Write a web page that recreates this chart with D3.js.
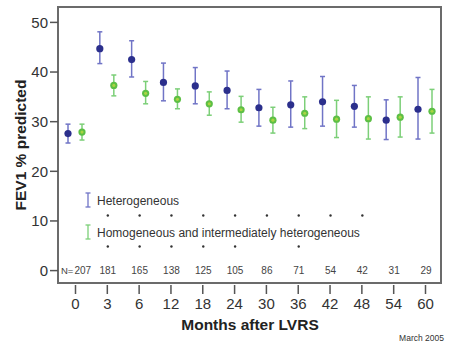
<!DOCTYPE html>
<html><head><meta charset="utf-8">
<script src="https://cdn.jsdelivr.net/npm/d3@7"></script>
<style>body{margin:0;background:#fff}text{font-family:"Liberation Sans",Arial,sans-serif}</style>
</head><body>
<svg id="c" width="465" height="343"></svg>
<script>
const months = ["0","3","6","12","18","24","30","36","42","48","54","60"];
const nLabels = ["207","181","165","138","125","105","86","71","54","42","31","29"];
const hetMean = [27.5,44.6,42.4,37.8,37.1,36.2,32.7,33.3,33.9,33.0,30.2,32.4];
const hetHigh = [29.4,48.0,46.2,41.7,40.8,40.1,36.4,38.1,39.0,37.2,34.3,38.8];
const hetLow  = [25.6,41.6,38.9,34.1,33.5,32.5,29.0,28.8,29.0,28.8,26.3,26.4];
const homMean = [27.8,37.2,35.6,34.4,33.5,32.3,30.2,31.6,30.4,30.5,30.8,32.0];
const homHigh = [29.4,39.3,38.0,36.5,35.9,35.0,32.8,34.9,34.2,34.9,34.9,36.4];
const homLow  = [26.2,35.1,33.5,32.5,31.2,29.8,27.6,28.5,26.7,26.4,26.8,27.6];
const sigHet = ["3","6","12","18","24","30","36","42","48"];
const sigHom = ["3","6","12","18","24","36"];
const yTicks = [0,10,20,30,40,50];

const svg = d3.select("#c");
const L=58, R=441, T=7, B=283;
const x = d3.scalePoint().domain(months).range([75,425]);
const y = d3.scaleLinear().domain([-2.6,53]).range([B,T]);
const blueDot="#2b2f8c", blueBar="#7074c6", greenDot="#5cbf45", greenBar="#7ccf78";

// frame
svg.append("rect").attr("x",L).attr("y",T).attr("width",R-L).attr("height",B-T)
  .attr("fill","none").attr("stroke","#6b6b6b").attr("stroke-width",2);

// y axis
const ya = svg.append("g").attr("transform",`translate(${L},0)`)
  .call(d3.axisLeft(y).tickValues(yTicks).tickSize(8).tickPadding(2));
ya.select(".domain").remove();
ya.selectAll("line").attr("stroke","#555").attr("stroke-width",1.5);
ya.selectAll("text").attr("font-size",15).attr("fill","#333").attr("dy","0.36em")
  .style("font-family","'Liberation Sans',Arial,sans-serif");

// x axis
const xa = svg.append("g").attr("transform",`translate(0,${B+2})`)
  .call(d3.axisBottom(x).tickSize(9).tickPadding(4));
xa.select(".domain").remove();
xa.selectAll("line").attr("stroke","#555").attr("stroke-width",1.5);
xa.selectAll("text").attr("font-size",15).attr("fill","#333")
  .style("font-family","'Liberation Sans',Arial,sans-serif");

// titles
svg.append("text").attr("x",250).attr("y",330).attr("text-anchor","middle")
  .attr("font-size",15.5).attr("font-weight","bold").attr("fill","#222").text("Months after LVRS");
svg.append("text").attr("transform","translate(26,145) rotate(-90)").attr("text-anchor","middle")
  .attr("font-size",15.5).attr("font-weight","bold").attr("fill","#222").text("FEV1 % predicted");
svg.append("text").attr("x",444).attr("y",341).attr("text-anchor","end")
  .attr("font-size",8.5).attr("fill","#333").text("March 2005");

// N row
svg.append("text").attr("x",61).attr("y",y(0)+3.5).attr("font-size",9.5).attr("fill","#444").text("N=");
svg.selectAll(".n").data(nLabels).join("text")
  .attr("x",(d,i)=>i===0?74.5:x(months[i])+1).attr("y",y(0)+3.5)
  .attr("text-anchor",(d,i)=>i===0?"start":"middle")
  .attr("font-size",10).attr("fill","#444").text(d=>d);

// series
function series(mean,hi,lo,off,barC,dotC,center){
  const g = svg.append("g");
  months.forEach((m,i)=>{
    const cx = x(m)+off;
    g.append("line").attr("x1",cx).attr("x2",cx).attr("y1",y(hi[i])).attr("y2",y(lo[i]))
      .attr("stroke",barC).attr("stroke-width",1.5);
    [hi[i],lo[i]].forEach(v=>g.append("line").attr("x1",cx-2.5).attr("x2",cx+2.5)
      .attr("y1",y(v)).attr("y2",y(v)).attr("stroke",barC).attr("stroke-width",1.5));
    g.append("circle").attr("cx",cx).attr("cy",y(mean[i])).attr("r",3.6).attr("fill",dotC);
    if(center) g.append("circle").attr("cx",cx).attr("cy",y(mean[i])).attr("r",1.6).attr("fill",center);
  });
}
series(hetMean,hetHigh,hetLow,-7,blueBar,blueDot,null);
series(homMean,homHigh,homLow,7,greenBar,greenDot,"#a9d443");

// legend
function legIcon(cy,c){
  svg.append("line").attr("x1",88).attr("x2",88).attr("y1",cy-7).attr("y2",cy+7).attr("stroke",c).attr("stroke-width",1.3);
  [cy-7,cy+7].forEach(v=>svg.append("line").attr("x1",85.5).attr("x2",90.5).attr("y1",v).attr("y2",v).attr("stroke",c).attr("stroke-width",1.3));
}
legIcon(200,blueBar); legIcon(232,greenBar);
svg.append("text").attr("x",97).attr("y",204.5).attr("font-size",12).attr("fill","#333").text("Heterogeneous");
svg.append("text").attr("x",97).attr("y",236.5).attr("font-size",12).attr("fill","#333").text("Homogeneous and intermediately heterogeneous");

// significance dots
svg.selectAll(".s1").data(sigHet).join("circle").attr("cx",d=>x(d)+1).attr("cy",215.5).attr("r",1.2).attr("fill","#333");
svg.selectAll(".s2").data(sigHom).join("circle").attr("cx",d=>x(d)+1).attr("cy",246.5).attr("r",1.2).attr("fill","#333");
</script>
</body></html>
